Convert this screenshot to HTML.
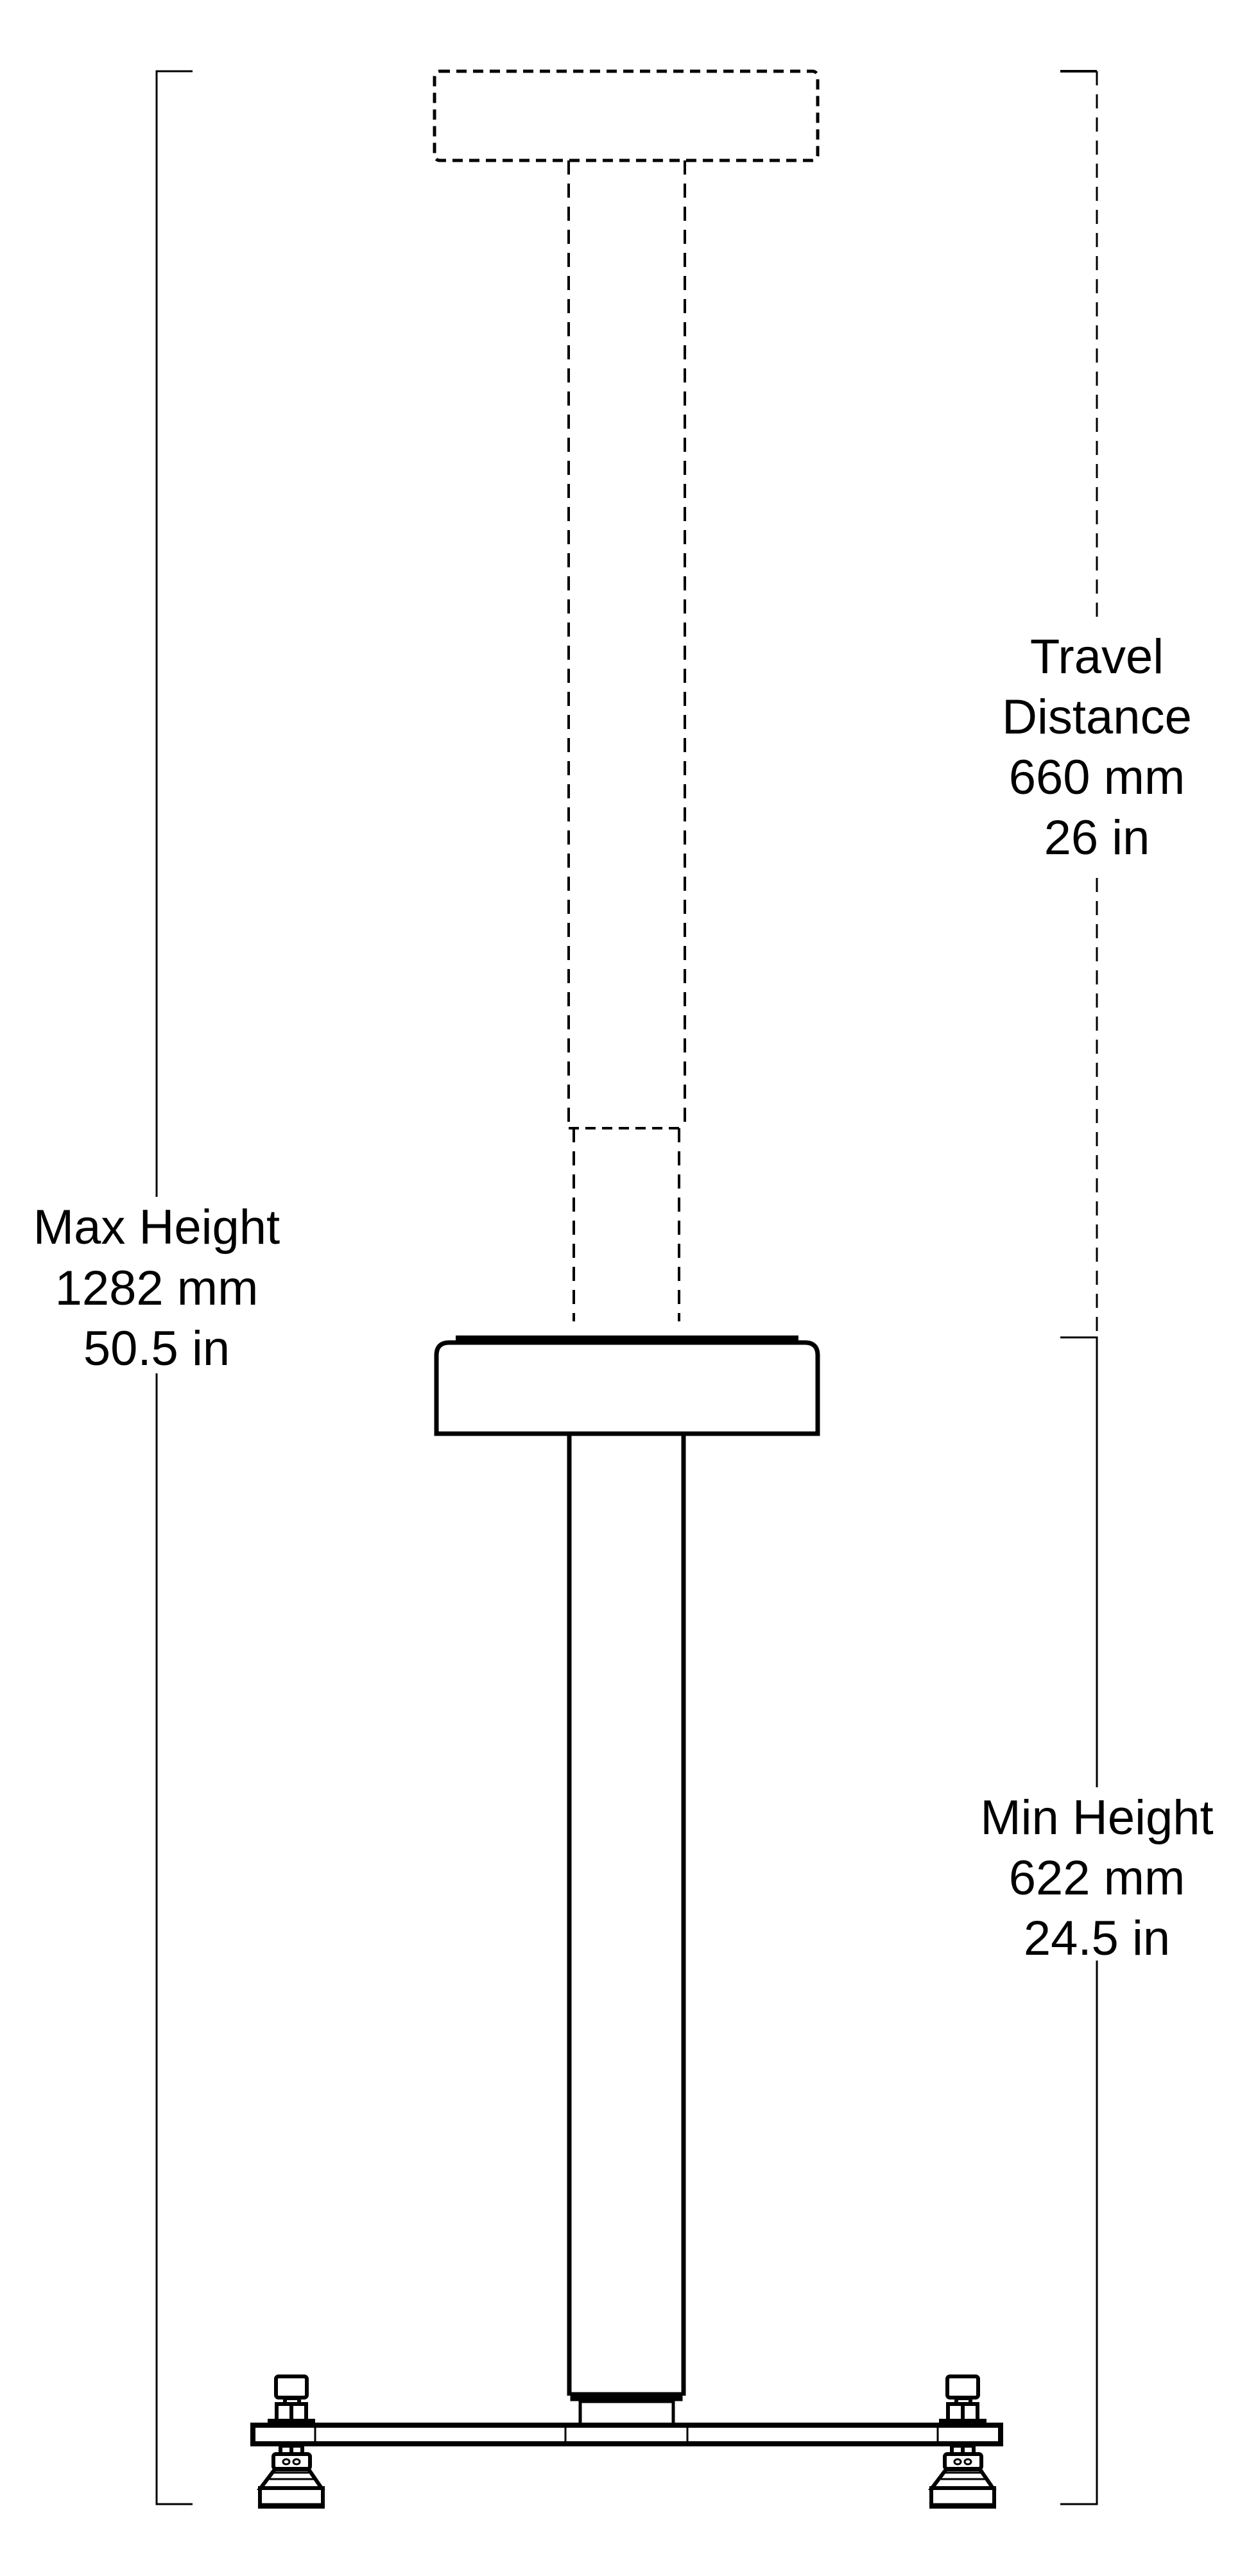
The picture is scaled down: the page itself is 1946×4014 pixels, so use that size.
<!DOCTYPE html>
<html><head><meta charset="utf-8"><style>
html,body{margin:0;padding:0;background:#fff;}
svg{display:block;}
text{font-family:"Liberation Sans",sans-serif;font-size:76px;fill:#000;text-anchor:middle;}
</style></head><body>
<svg width="1946" height="4014" viewBox="0 0 1946 4014" xmlns="http://www.w3.org/2000/svg">
<g fill="none" stroke="#000" stroke-width="3">
<polyline points="300,111 244,111 244,1865"/>
<polyline points="244,2140 244,3902 300,3902"/>
<line x1="1652" y1="111" x2="1709" y2="111" stroke-width="4"/>
<line x1="1709" y1="111" x2="1709" y2="975" stroke-dasharray="22,14"/>
<line x1="1709" y1="1368" x2="1709" y2="2084" stroke-dasharray="22,14"/>
<polyline points="1652,2084 1709,2084 1709,2785"/>
<polyline points="1709,3055 1709,3902 1652,3902"/>
</g>
<g fill="none" stroke="#000">
<rect x="677" y="111" width="597" height="139" rx="8" stroke-width="5" stroke-dasharray="16,10"/>
<line x1="886" y1="250" x2="886" y2="1758" stroke-width="4" stroke-dasharray="22,14"/>
<line x1="1067" y1="250" x2="1067" y2="1758" stroke-width="4" stroke-dasharray="22,14"/>
<line x1="886" y1="1758" x2="1067" y2="1758" stroke-width="4" stroke-dasharray="16,10"/>
<line x1="894" y1="1758" x2="894" y2="2059" stroke-width="4" stroke-dasharray="22,14"/>
<line x1="1058" y1="1758" x2="1058" y2="2059" stroke-width="4" stroke-dasharray="22,14"/>
</g>
<g fill="none" stroke="#000" stroke-width="7">
<rect x="711" y="2082" width="532" height="10" fill="#000" stroke-width="2"/>
<path d="M680,2234 L680,2112 Q680,2092 700,2092 L1254,2092 Q1274,2092 1274,2112 L1274,2234 Z"/>
<line x1="887" y1="2237" x2="887" y2="3733" stroke-width="7"/>
<line x1="1065" y1="2237" x2="1065" y2="3733" stroke-width="7"/>
<rect x="889" y="3728" width="174" height="13" fill="#000" stroke-width="1"/>
<rect x="904" y="3742" width="145" height="36" stroke-width="5"/>
<rect x="394" y="3779" width="1165" height="29" stroke-width="8"/>
<g stroke-width="3">
<line x1="491" y1="3779" x2="491" y2="3808"/>
<line x1="881" y1="3779" x2="881" y2="3808"/>
<line x1="1071" y1="3779" x2="1071" y2="3808"/>
<line x1="1461" y1="3779" x2="1461" y2="3808"/>
</g>
</g>
<g id="foot" fill="none" stroke="#000" stroke-width="6">
<rect x="430" y="3703" width="48" height="33" rx="4"/>
<rect x="444" y="3737" width="22" height="9"/>
<rect x="431" y="3746" width="46" height="27"/>
<line x1="454" y1="3746" x2="454" y2="3773"/>
<rect x="420" y="3772" width="68" height="4" fill="#000"/>
<rect x="437" y="3811" width="34" height="13"/>
<line x1="454" y1="3811" x2="454" y2="3824"/>
<rect x="426" y="3824" width="57" height="23" rx="4"/>
<ellipse cx="446" cy="3836" rx="5" ry="4" stroke-width="3"/>
<ellipse cx="462" cy="3836" rx="5" ry="4" stroke-width="3"/>
<polygon points="428,3848 481,3848 501,3877 406,3877"/>
<line x1="426" y1="3853" x2="483" y2="3853" stroke-width="3"/>
<line x1="420" y1="3863" x2="489" y2="3863" stroke-width="3"/>
<rect x="405" y="3877" width="98" height="29"/>
<line x1="405" y1="3904" x2="503" y2="3904" stroke-width="7"/>
</g>
<use href="#foot" x="1046" y="0"/>
<text x="244" y="1938">Max Height</text>
<text x="244" y="2033">1282 mm</text>
<text x="244" y="2127">50.5 in</text>
<text x="1709" y="1049">Travel</text>
<text x="1709" y="1143">Distance</text>
<text x="1709" y="1237">660 mm</text>
<text x="1709" y="1331">26 in</text>
<text x="1709" y="2858">Min Height</text>
<text x="1709" y="2952">622 mm</text>
<text x="1709" y="3046">24.5 in</text>
</svg>
</body></html>
